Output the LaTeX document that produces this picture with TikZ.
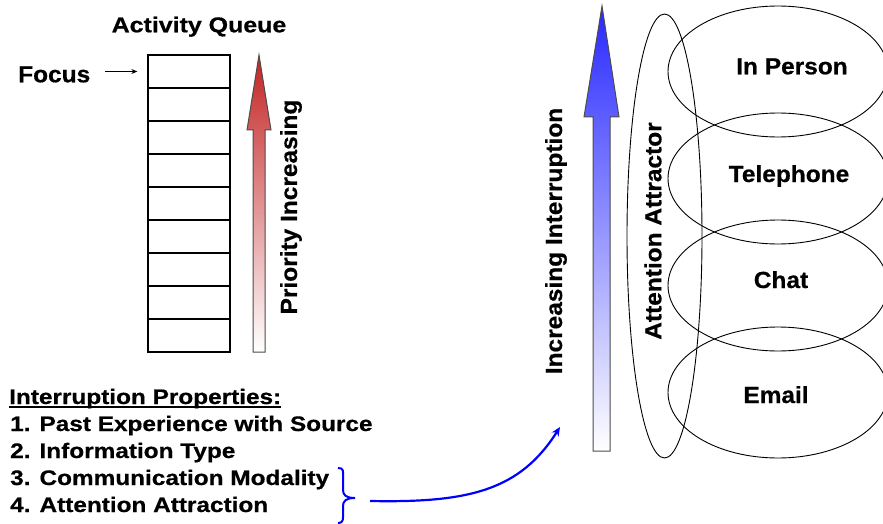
\documentclass[tikz,border=0pt]{standalone}
\usepackage{fontspec}
\setmainfont{Liberation Sans}
\newfontfamily\fa{Liberation Sans}[FakeStretch=1.05,FakeBold=0.6]
\newfontfamily\fb{Liberation Sans}[FakeStretch=1.16,FakeBold=0.6]
\usetikzlibrary{arrows.meta,shapes.geometric}
\definecolor{arrred}{RGB}{195,35,35}
\definecolor{arrblue}{RGB}{40,40,255}
\begin{document}
\begin{tikzpicture}[x=1pt,y=-1pt,
  lbl/.style={font=\fa\bfseries\fontsize{23.3}{28}\selectfont, inner sep=0pt},
  lst/.style={font=\fb\bfseries\fontsize{21}{24}\selectfont, inner sep=0pt, anchor=base west},
  cell/.style={draw, line width=1.3pt, minimum width=82pt, minimum height=33pt, inner sep=0pt},
  oval/.style={draw, line width=0.9pt, ellipse, inner sep=0pt},
  grad/.style={draw=gray!60!black, line width=1pt}]
\useasboundingbox (0,0) rectangle (883,524);

% activity queue
\foreach \i in {1,...,9} \node[cell] (q\i) at (189, {55+33*(\i-0.5)}) {};
\node[font=\fb\bfseries\fontsize{21.5}{24}\selectfont, inner sep=0pt, anchor=base] (aq) at (199,32.3) {Activity Queue};
\node[lbl, anchor=base west] (focus) at (18,82.3) {Focus};
\draw[line width=0.8pt, -{Stealth[length=6pt,width=5pt]}] ([xshift=15pt]focus.east |- q1.west) -- ([xshift=-10pt]q1.west);

% priority arrow
\shadedraw[grad, top color=arrred, bottom color=white] (259,55) -- (271,130) -- (265,130) -- (265,352) -- (253,352) -- (253,130) -- (247,130) -- cycle;
\node[lbl, rotate=90] (pri) at (291,207) {Priority Increasing};

% interruption arrow
\shadedraw[grad, top color=arrblue, bottom color=white] (602,6) -- (619,117) -- (610,117) -- (610,451) -- (593,451) -- (593,117) -- (584,117) -- cycle;
\node[lbl, rotate=90] (inc) at (556,241) {Increasing Interruption};

% attention attractor
\node[oval, minimum width=75pt, minimum height=444pt] (att) at (664.5,236) {};
\node[lbl, rotate=90] (attl) at (653,231) {Attention Attractor};

% modality ellipses
\node[oval, minimum width=220pt, minimum height=131pt] (e1) at (778,71.5) {};
\node[oval, minimum width=220pt, minimum height=131pt] (e2) at (778,178.5) {};
\node[oval, minimum width=220pt, minimum height=131pt] (e3) at (778,285.5) {};
\node[oval, minimum width=220pt, minimum height=131pt] (e4) at (778,392.5) {};
\node[lbl, anchor=base] (l1) at (792,74.3) {In Person};
\node[lbl, anchor=base] (l2) at (789,182) {Telephone};
\node[lbl, anchor=base] (l3) at (781,288) {Chat};
\node[lbl, anchor=base] (l4) at (776,403) {Email};

% properties list
\node[lst] (ip) at (9,404) {Interruption Properties:};
\draw[line width=1.8pt] ([yshift=-3pt]ip.base west) -- ([yshift=-3pt]ip.base east);
\node[lst] (p1) at (10,431) {1. Past Experience with Source};
\node[lst] (p2) at (10,458) {2. Information Type};
\node[lst] (p3) at (10,485) {3. Communication Modality};
\node[lst] (p4) at (10,512) {4. Attention Attraction};

% brace and arrow
\coordinate (bt) at (338,468);
\coordinate (bb) at (338,523);
\coordinate (as) at (370,501);
\coordinate (ae) at (560,427);
\draw[blue, line width=2pt] (bt) .. controls (344,468) and (343,471) .. (343,477) -- (343,490) .. controls (343,495) and (346,498) .. (355,498) .. controls (346,498) and (343,501) .. (343,506) -- (343,517) .. controls (343,521) and (342,523) .. (bb);
\draw[blue, line width=2.2pt, -{Stealth[length=9pt,width=8pt]}] (as) .. controls (470,503) and (520,490) .. (ae);
\end{tikzpicture}
\end{document}
